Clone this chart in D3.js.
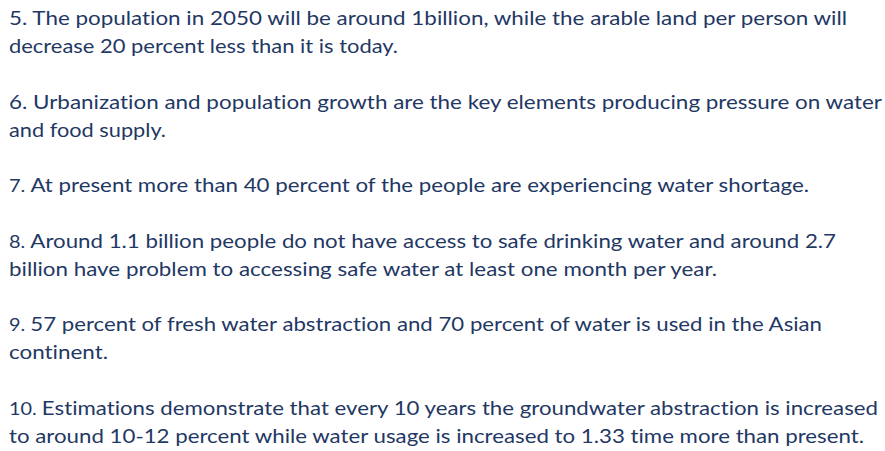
<!DOCTYPE html>
<html>
<head>
<meta charset="utf-8">
<script src="https://cdn.jsdelivr.net/npm/d3@7"></script>
<style>
  html, body { margin: 0; padding: 0; background: #fff; }
  svg { display: block; }
  text { font-variant-ligatures: none; font-feature-settings: "liga" 0; }
</style>
</head>
<body>
<svg id="chart"></svg>
<script>
// Item numbers and their text, one entry per wrapped line
var numbers = ["5.", "6.", "7.", "8.", "9.", "10."];
var smallNumber = [false, false, true, true, true, true];
var lines = [
  ["The population in 2050 will be around 1billion, while the arable land per person will",
   "decrease 20 percent less than it is today."],
  ["Urbanization and population growth are the key elements producing pressure on water",
   "and food supply."],
  ["At present more than 40 percent of the people are experiencing water shortage."],
  ["Around 1.1 billion people do not have access to safe drinking water and around 2.7",
   "billion have problem to accessing safe water at least one month per year."],
  ["57 percent of fresh water abstraction and 70 percent of water is used in the Asian",
   "continent."],
  ["Estimations demonstrate that every 10 years the groundwater abstraction is increased",
   "to around 10-12 percent while water usage is increased to 1.33 time more than present."]
];
// right edge of each wrapped line in the picture
var lineEnds = [[847, 398], [882, 166], [809], [836, 717], [822, 108], [878, 864]];

var width = 885, height = 451;
var left = 9, firstBase = 25, lineStep = 28, paraStep = 55.5;
var color = "#1f3864";

var svg = d3.select("#chart").attr("width", width).attr("height", height);

// flatten into rows with a computed baseline
var rows = [];
var y = firstBase;
lines.forEach(function (item, i) {
  item.forEach(function (t, j) {
    rows.push({ item: i, first: j === 0, text: t, end: lineEnds[i][j], y: y });
    y += (j < item.length - 1) ? lineStep : paraStep;
  });
});

var text = svg.selectAll("text.line")
  .data(rows)
  .enter().append("text")
  .attr("class", "line")
  .attr("x", left)
  .attr("y", function (d) { return d.y; })
  .attr("fill", color)
  .style("font-family", "Lato, 'Open Sans', sans-serif")
  .style("font-size", "19px");

text.each(function (d) {
  var el = d3.select(this);
  if (d.first) {
    el.append("tspan")
      .style("font-size", smallNumber[d.item] ? "17px" : "19px")
      .text(numbers[d.item] + " ");
  }
  el.append("tspan").text(d.text);
});

// stretch each line to the width it has in the picture
text.each(function (d) {
  this.setAttribute("textLength", d.end - left);
  this.setAttribute("lengthAdjust", "spacingAndGlyphs");
});
</script>
</body>
</html>
